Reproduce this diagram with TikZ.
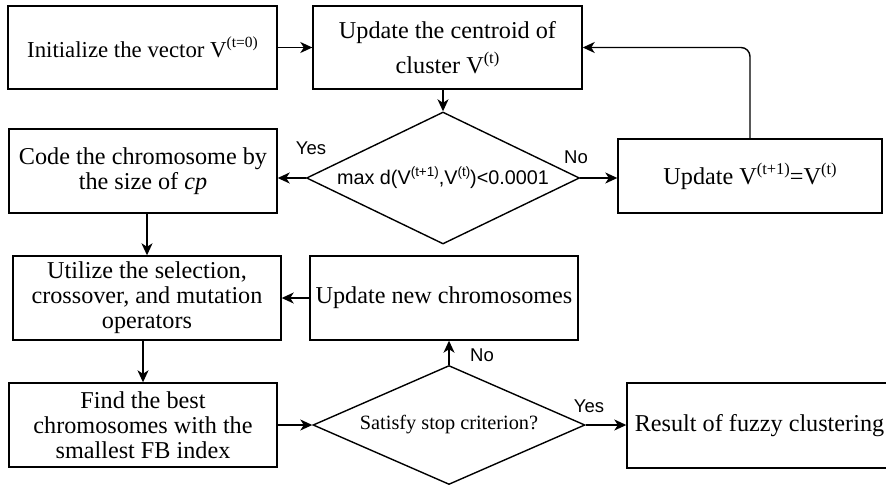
\documentclass[tikz,border=0pt]{standalone}
\usepackage{fontspec}
\setmainfont{Liberation Serif}
\setsansfont{Liberation Sans}
\usepackage{graphicx}
\usetikzlibrary{shapes.geometric,arrows.meta}
% raised, reduced text for the iteration indices
\newcommand\sups[1]{\raisebox{0.42em}{\scalebox{0.68}{#1}}}

\begin{document}
\begin{tikzpicture}[x=1pt,y=-1pt,
  box/.style={draw, rectangle, line width=1.4pt, inner sep=2pt, align=center,
    font=\fontsize{24.2}{25}\selectfont},
  dia/.style={draw, diamond, line width=1.4pt, inner sep=0pt},
  conn/.style={line width=1.4pt, -{Stealth[length=12pt,width=11pt,inset=3.5pt]}},
  lab/.style={font=\sffamily\fontsize{18.5}{20}\selectfont, inner sep=0pt}]
\useasboundingbox (0,0) rectangle (886,487);

% first stage: centroid iteration
\node[box, minimum width=269pt, minimum height=83pt, font=\fontsize{22.8}{25}\selectfont]
  (init) at (142.5,47.5) {Initialize the vector V\sups{(t=0)}};
\node[box, minimum width=269pt, minimum height=83pt] (cent) at (447.5,47.5)
  {Update the centroid of\\[7pt]cluster V\sups{(t)}};
\node[dia, minimum width=273pt, minimum height=132pt,
  label={[font=\sffamily\fontsize{19.8}{21}\selectfont]center:max d(V\sups{(t+1)},V\sups{(t)})<0.0001}]
  (conv) at (443,178) {};
\node[box, minimum width=264pt, minimum height=74pt] (upd) at (750,176)
  {Update V\sups{(t+1)}=V\sups{(t)}};
\node[box, minimum width=268pt, minimum height=84pt] (code) at (143,171)
  {Code the chromosome by\\the size of \textit{cp}};

% second stage: genetic search
\node[box, minimum width=268pt, minimum height=84pt] (oper) at (147,298)
  {Utilize the selection,\\crossover, and mutation\\operators};
\node[box, minimum width=268pt, minimum height=84pt] (newc) at (444,298)
  {Update new chromosomes};
\node[box, minimum width=268pt, minimum height=84pt] (best) at (143,425)
  {Find the best\\chromosomes with the\\smallest FB index};
\node[dia, minimum width=272pt, minimum height=119pt,
  label={[font=\fontsize{20.3}{21}\selectfont]center:Satisfy stop criterion?}]
  (stop) at (449,425) {};
\node[box, minimum width=265pt, minimum height=85pt] (res) at (759.5,425.5)
  {Result of fuzzy clustering};

% connectors
\draw[conn] (init.east) -- (init.east -| cent.west);
\draw[conn] (conv.north |- cent.south) -- (conv.north);
\draw[conn] (conv.west) -- (conv.west -| code.east);
\draw[conn] (conv.east) -- (conv.east -| upd.west);
\draw[conn, rounded corners=9pt] (upd.north) |- (cent.east);
\draw[conn] (code.south -| oper.north) -- (oper.north);
\draw[conn] (newc.west) -- (newc.west -| oper.east);
\draw[conn] (oper.south -| best.north) -- (best.north);
\draw[conn] (best.east) -- (best.east -| stop.west);
\draw[conn] (stop.north) -- (stop.north |- newc.south);
\draw[conn] (stop.east) -- (stop.east -| res.west);

% branch labels
\node[lab] (yes1) at (311,148) {Yes};
\node[lab] (no1) at (576,157) {No};
\node[lab] (no2) at (482,355) {No};
\node[lab] (yes2) at (589,406) {Yes};
\end{tikzpicture}
\end{document}
